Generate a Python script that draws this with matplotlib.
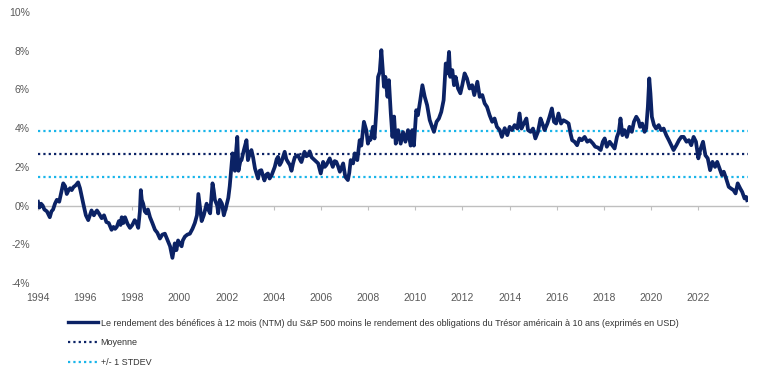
import matplotlib.pyplot as plt
import numpy as np

plt.rcParams["font.family"] = ["Liberation Sans Narrow", "Liberation Sans", "DejaVu Sans"]

# decimal year, spread in %
dates = [
    1994.00, 1994.06, 1994.13, 1994.20, 1994.27, 1994.38, 1994.50, 1994.57, 1994.64, 1994.72,
    1994.80, 1994.90, 1994.97, 1995.07, 1995.15, 1995.22, 1995.30, 1995.36, 1995.43, 1995.50,
    1995.60, 1995.70, 1995.78, 1995.85, 1995.92, 1996.03, 1996.13, 1996.20, 1996.27, 1996.37,
    1996.44, 1996.50, 1996.58, 1996.70, 1996.80, 1996.90, 1997.00, 1997.12, 1997.20, 1997.27,
    1997.34, 1997.43, 1997.50, 1997.55, 1997.62, 1997.69, 1997.80, 1997.90, 1998.00, 1998.10,
    1998.18, 1998.25, 1998.32, 1998.36, 1998.40, 1998.46, 1998.53, 1998.60, 1998.66, 1998.75,
    1998.85, 1998.96, 1999.06, 1999.17, 1999.27, 1999.38, 1999.48, 1999.60, 1999.70, 1999.80,
    1999.87, 1999.94, 2000.02, 2000.09, 2000.14, 2000.23, 2000.33, 2000.44, 2000.55, 2000.65,
    2000.74, 2000.80, 2000.88, 2000.94, 2001.03, 2001.15, 2001.22, 2001.30, 2001.40, 2001.45,
    2001.50, 2001.60, 2001.64, 2001.71, 2001.80, 2001.88, 2001.99, 2002.07, 2002.13, 2002.20,
    2002.25, 2002.30, 2002.35, 2002.40, 2002.45, 2002.50, 2002.58, 2002.63, 2002.73, 2002.84,
    2002.90, 2002.96, 2003.05, 2003.12, 2003.20, 2003.33, 2003.40, 2003.47, 2003.55, 2003.60,
    2003.68, 2003.75, 2003.82, 2003.90, 2004.04, 2004.12, 2004.18, 2004.25, 2004.32, 2004.46,
    2004.53, 2004.60, 2004.68, 2004.75, 2004.82, 2004.89, 2005.03, 2005.10, 2005.17, 2005.30,
    2005.38, 2005.45, 2005.52, 2005.60, 2005.73, 2005.88, 2005.99, 2006.09, 2006.16, 2006.23,
    2006.37, 2006.50, 2006.58, 2006.65, 2006.72, 2006.80, 2006.94, 2007.03, 2007.14, 2007.20,
    2007.26, 2007.36, 2007.43, 2007.54, 2007.64, 2007.71, 2007.82, 2007.92, 2007.99, 2008.05,
    2008.10, 2008.20, 2008.27, 2008.35, 2008.42, 2008.49, 2008.56, 2008.63, 2008.67, 2008.73,
    2008.82, 2008.88, 2008.96, 2009.03, 2009.10, 2009.17, 2009.27, 2009.38, 2009.48, 2009.58,
    2009.69, 2009.80, 2009.87, 2009.94, 2010.04, 2010.11, 2010.21, 2010.30, 2010.40, 2010.50,
    2010.61, 2010.71, 2010.79, 2010.90, 2011.00, 2011.10, 2011.20, 2011.29, 2011.36, 2011.43,
    2011.48, 2011.57, 2011.64, 2011.71, 2011.81, 2011.91, 2011.99, 2012.09, 2012.19, 2012.30,
    2012.41, 2012.50, 2012.63, 2012.73, 2012.84, 2012.94, 2013.04, 2013.15, 2013.26, 2013.36,
    2013.46, 2013.58, 2013.67, 2013.79, 2013.90, 2014.00, 2014.10, 2014.21, 2014.33, 2014.42,
    2014.50, 2014.60, 2014.71, 2014.78, 2014.89, 2014.99, 2015.09, 2015.20, 2015.31, 2015.41,
    2015.48, 2015.60, 2015.69, 2015.79, 2015.88, 2015.97, 2016.07, 2016.18, 2016.28, 2016.40,
    2016.50, 2016.58, 2016.65, 2016.75, 2016.86, 2016.96, 2017.06, 2017.18, 2017.29, 2017.40,
    2017.53, 2017.63, 2017.74, 2017.86, 2017.95, 2018.03, 2018.12, 2018.24, 2018.35, 2018.45,
    2018.55, 2018.63, 2018.70, 2018.78, 2018.87, 2018.97, 2019.08, 2019.18, 2019.27, 2019.37,
    2019.46, 2019.53, 2019.62, 2019.72, 2019.79, 2019.86, 2019.92, 2019.97, 2020.03, 2020.12,
    2020.21, 2020.32, 2020.42, 2020.53, 2020.64, 2020.75, 2020.85, 2020.95, 2021.07, 2021.18,
    2021.28, 2021.38, 2021.50, 2021.60, 2021.70, 2021.80, 2021.90, 2022.00, 2022.08, 2022.20,
    2022.30, 2022.40, 2022.50, 2022.60, 2022.71, 2022.80, 2022.90, 2023.00, 2023.08, 2023.18,
    2023.29, 2023.39, 2023.49, 2023.58, 2023.67, 2023.78, 2023.86, 2023.96, 2024.03, 2024.07,
]
spread = [
    0.2, -0.1, 0.1, 0.0, -0.2, -0.3, -0.6, -0.3, -0.2, 0.1,
    0.3, 0.2, 0.6, 1.15, 1.0, 0.6, 0.8, 0.9, 0.8, 0.95,
    1.05, 1.2, 0.9, 0.5, 0.1, -0.5, -0.75, -0.5, -0.25, -0.5,
    -0.35, -0.25, -0.4, -0.65, -0.5, -0.85, -0.9, -1.25, -1.1, -1.2,
    -1.1, -0.8, -1.0, -0.6, -0.9, -0.6, -0.95, -1.15, -1.0, -0.75,
    -0.9, -1.15, -0.3, 0.8, 0.3, 0.1, -0.3, -0.4, -0.2, -0.6,
    -0.9, -1.25, -1.4, -1.7, -1.5, -1.45, -1.75, -2.1, -2.7, -1.95,
    -2.3, -1.8, -2.0, -2.1, -1.8, -1.6, -1.5, -1.45, -1.2, -0.9,
    -0.5, 0.6, -0.2, -0.8, -0.5, 0.1, -0.2, -0.4, 1.15, 0.8,
    0.3, 0.0, -0.4, 0.3, 0.1, -0.5, 0.0, 0.4, 1.0, 2.0,
    2.7, 2.2, 1.8, 2.8, 3.55, 1.8, 2.3, 2.35, 2.87, 3.38,
    2.35, 2.6, 2.87, 2.5, 1.92, 1.4, 1.8, 1.83, 1.5, 1.3,
    1.6, 1.66, 1.4, 1.55, 2.0, 2.4, 2.52, 2.1, 2.25, 2.78,
    2.4, 2.25, 2.1, 1.8, 2.2, 2.5, 2.6, 2.4, 2.25, 2.78,
    2.55, 2.6, 2.8, 2.5, 2.35, 2.18, 1.66, 2.26, 2.0, 2.1,
    2.44, 2.0, 2.3, 2.26, 2.05, 1.75, 2.18, 1.49, 1.32, 1.7,
    2.35, 2.18, 2.7, 2.35, 3.38, 3.1, 4.33, 3.9, 3.2, 3.5,
    3.4, 4.07, 3.47, 4.93, 6.65, 6.9, 8.03, 6.8, 6.14, 6.65,
    5.62, 6.48, 4.76, 3.55, 4.6, 3.2, 3.9, 3.2, 3.8, 3.3,
    3.9, 3.1, 3.9, 3.1, 4.93, 4.67, 5.45, 6.22, 5.62, 5.19,
    4.42, 4.07, 3.81, 4.33, 4.5, 4.84, 5.45, 7.34, 6.83, 7.94,
    6.65, 7.0, 6.22, 6.65, 6.05, 5.8, 6.22, 6.83, 6.57, 6.05,
    6.22, 5.71, 6.4, 5.62, 5.71, 5.28, 5.1, 4.67, 4.33, 4.5,
    4.07, 3.9, 3.55, 4.0, 3.64, 4.07, 3.9, 4.16, 3.98, 4.76,
    3.98, 4.24, 4.5, 3.9, 3.81, 3.98, 3.47, 3.81, 4.5, 4.16,
    3.9, 4.24, 4.59, 5.02, 4.33, 4.24, 4.76, 4.24, 4.41, 4.33,
    4.24, 3.73, 3.38, 3.3, 3.12, 3.47, 3.38, 3.55, 3.3, 3.38,
    3.21, 3.04, 3.0, 2.87, 3.3, 3.47, 3.04, 3.3, 3.12, 2.95,
    3.55, 3.81, 4.5, 3.64, 3.9, 3.55, 4.07, 3.81, 4.33, 4.59,
    4.41, 4.07, 4.24, 3.81, 3.98, 5.1, 6.57, 5.8, 4.59, 4.16,
    3.98, 4.16, 3.9, 3.98, 3.64, 3.38, 3.12, 2.87, 3.12, 3.38,
    3.55, 3.55, 3.3, 3.38, 3.12, 3.55, 3.3, 2.44, 2.87, 3.3,
    2.6, 2.44, 1.83, 2.26, 2.0, 2.26, 1.92, 1.58, 1.75, 1.4,
    0.97, 0.88, 0.8, 0.63, 1.15, 0.88, 0.71, 0.37, 0.45, 0.28,
]
mean_level = 2.66
std_upper = 3.84
std_lower = 1.48

year_ticks = list(range(1994, 2023, 2))
pct_ticks = [-4, -2, 0, 2, 4, 6, 8, 10]

navy = "#0b2265"
cyan = "#19b5ea"
grey_txt = "#595959"

fig = plt.figure(figsize=(7.6, 3.7), dpi=100)
ax = fig.add_axes([0.05, 0.235, 0.934, 0.7325])

ax.axhline(std_upper, color=cyan, lw=1.6, ls=(0, (1, 1.4)), zorder=2)
ax.axhline(mean_level, color=navy, lw=1.6, ls=(0, (1, 1.4)), zorder=2)
ax.axhline(std_lower, color=cyan, lw=1.6, ls=(0, (1, 1.4)), zorder=2)
ax.plot(dates, spread, color=navy, lw=2.7, zorder=3, solid_joinstyle="round")

ax.set_xlim(1994.0, 2024.1)
ax.set_ylim(-4, 10)
ax.set_yticks(pct_ticks)
ax.set_yticklabels(["%d%%" % p for p in pct_ticks])
ax.set_xticks(year_ticks)
ax.set_xticklabels([str(y) for y in year_ticks])
ax.tick_params(axis="both", length=0, labelsize=7.5, labelcolor=grey_txt)
ax.tick_params(axis="x", pad=7)
ax.tick_params(axis="y", pad=6)
for s in ax.spines.values():
    s.set_visible(False)

# zero line with small ticks
zax = ax.secondary_xaxis(0, transform=ax.transData)
zax.set_xticks(year_ticks)
zax.tick_params(axis="x", length=3, width=0.8, color="#bfbfbf", labelbottom=False)
zax.spines["bottom"].set_color("#bfbfbf")
zax.spines["bottom"].set_linewidth(1.0)

h1, = ax.plot([], [], color=navy, lw=2.4)
h2, = ax.plot([], [], color=navy, lw=1.6, ls=(0, (1, 1.4)))
h3, = ax.plot([], [], color=cyan, lw=1.6, ls=(0, (1, 1.4)))
fig.legend(
    [h1, h2, h3],
    [
        "Le rendement des bénéfices à 12 mois (NTM) du S&P 500 moins le rendement des obligations du Trésor américain à 10 ans (exprimés en USD)",
        "Moyenne",
        "+/- 1 STDEV",
    ],
    loc="upper left",
    bbox_to_anchor=(0.089, 0.139),
    frameon=False,
    fontsize=6.5,
    labelcolor="#333333",
    handlelength=3.35,
    handletextpad=0.3,
    labelspacing=1.2,
    borderaxespad=0,
    borderpad=0,
)

fig.savefig("out.png", dpi=100, facecolor="white")
